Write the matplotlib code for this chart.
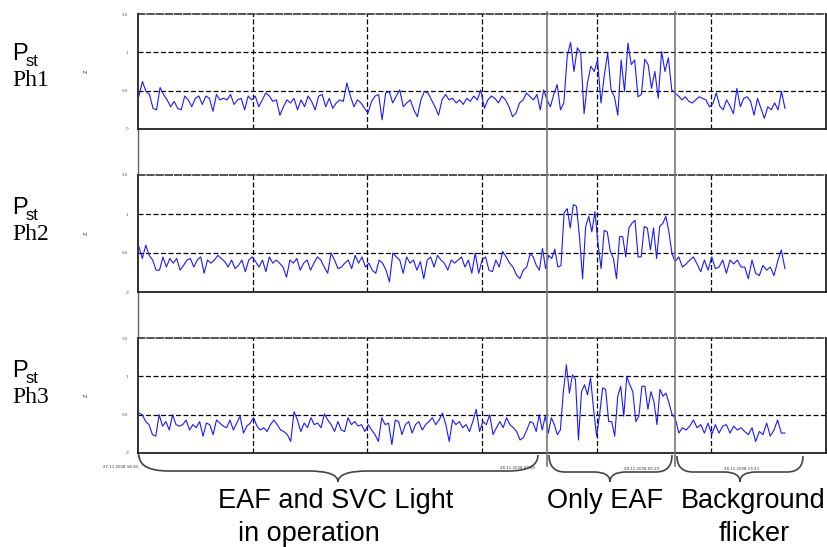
import numpy as np
import matplotlib
matplotlib.use("Agg")
import matplotlib.pyplot as plt
from matplotlib.path import Path
from matplotlib.patches import PathPatch
from matplotlib.lines import Line2D

# ---------------- data ----------------
# time axis in arbitrary units; boundaries of the three operating periods
seg_bounds = [0.4, 171.0, 234.2, 282.1]
x_range = [0, 300]
x_grid = [50, 100, 150, 200, 250]
y_ticks = [0, 0.5, 1, 1.5]
y_tick_labels = ["0", "0.5", "1", "1.5"]

phase_names = ["Ph1", "Ph2", "Ph3"]

# Phase 1
ph1_a = [0.43, 0.62, 0.49, 0.45, 0.27, 0.25, 0.54, 0.45, 0.38, 0.29, 0.36, 0.27, 0.25, 0.43, 0.38,
         0.29, 0.40, 0.43, 0.32, 0.43, 0.40, 0.23, 0.45, 0.38, 0.40, 0.38, 0.45, 0.32, 0.38, 0.40,
         0.25, 0.43, 0.38, 0.43, 0.29, 0.38, 0.47, 0.43, 0.36, 0.38, 0.18, 0.29, 0.38, 0.34, 0.40,
         0.25, 0.38, 0.29, 0.43, 0.36, 0.25, 0.43, 0.45, 0.29, 0.40, 0.27, 0.34, 0.38, 0.36, 0.60,
         0.43, 0.29, 0.38, 0.34, 0.27, 0.21, 0.36, 0.43, 0.45, 0.12, 0.47, 0.49, 0.34, 0.43, 0.51,
         0.29, 0.34, 0.38, 0.25, 0.16, 0.38, 0.49, 0.47, 0.38, 0.29, 0.18, 0.38, 0.45, 0.38, 0.40,
         0.34, 0.38, 0.32, 0.40, 0.36, 0.43, 0.38, 0.51, 0.27, 0.38, 0.43, 0.40, 0.34, 0.43, 0.38,
         0.29, 0.16, 0.21, 0.34, 0.38, 0.47]
ph1_b = [0.42, 0.38, 0.45, 0.25, 0.51, 0.38, 0.29, 0.45, 0.58, 0.25, 0.34,
         0.95, 1.13, 0.75, 1.06, 0.99, 0.20, 0.60, 0.82, 0.75, 0.90, 0.34, 0.70, 0.99, 0.51, 0.42,
         0.18, 0.90, 0.49, 1.12, 0.84, 0.90, 0.42, 0.45, 0.91, 0.84, 0.53, 0.75, 0.40, 1.01, 0.75,
         0.93, 0.51]
ph1_c = [0.47, 0.43, 0.38, 0.42, 0.36, 0.34, 0.38, 0.42, 0.40, 0.38, 0.29, 0.33, 0.47, 0.30, 0.25,
         0.38, 0.30, 0.20, 0.53, 0.29, 0.40, 0.42, 0.36, 0.18, 0.40, 0.27, 0.14, 0.29, 0.25, 0.34,
         0.25, 0.49, 0.27]

# Phase 2
ph2_a = [0.58, 0.43, 0.60, 0.47, 0.41, 0.28, 0.28, 0.45, 0.32, 0.43, 0.37, 0.43, 0.28, 0.34, 0.41,
         0.43, 0.32, 0.41, 0.45, 0.24, 0.41, 0.37, 0.41, 0.47, 0.43, 0.39, 0.32, 0.41, 0.30, 0.34,
         0.41, 0.26, 0.41, 0.45, 0.39, 0.32, 0.41, 0.26, 0.45, 0.37, 0.41, 0.37, 0.32, 0.19, 0.41,
         0.37, 0.43, 0.28, 0.37, 0.41, 0.28, 0.37, 0.45, 0.41, 0.32, 0.24, 0.50, 0.41, 0.30, 0.32,
         0.37, 0.41, 0.30, 0.47, 0.37, 0.45, 0.32, 0.37, 0.28, 0.24, 0.41, 0.37, 0.28, 0.13, 0.50,
         0.45, 0.41, 0.24, 0.45, 0.37, 0.41, 0.28, 0.39, 0.17, 0.41, 0.45, 0.32, 0.47, 0.41, 0.37,
         0.28, 0.41, 0.37, 0.41, 0.45, 0.32, 0.41, 0.24, 0.50, 0.24, 0.41, 0.45, 0.28, 0.26, 0.41,
         0.32, 0.52, 0.45, 0.37, 0.32, 0.22, 0.17, 0.28, 0.32]
ph2_b = [0.49, 0.45, 0.34, 0.28, 0.56, 0.30, 0.47, 0.43, 0.55, 0.32, 0.34,
         1.01, 1.07, 0.82, 1.12, 1.10, 0.71, 0.17, 0.84, 0.97, 0.77, 1.03, 0.62, 0.30, 0.79, 0.77,
         0.52, 0.43, 0.17, 0.71, 0.71, 0.45, 0.82, 0.88, 0.92, 0.45, 0.45, 0.84, 0.82, 0.54, 0.82,
         0.43, 0.84, 0.88, 0.97, 0.77, 0.49]
ph2_c = [0.39, 0.45, 0.32, 0.36, 0.41, 0.45, 0.36, 0.26, 0.41, 0.28, 0.45, 0.30, 0.32, 0.41, 0.24,
         0.41, 0.36, 0.41, 0.32, 0.32, 0.17, 0.41, 0.24, 0.21, 0.34, 0.28, 0.32, 0.21, 0.39, 0.54,
         0.30]

# Phase 3
ph3_a = [0.52, 0.50, 0.41, 0.37, 0.24, 0.22, 0.50, 0.35, 0.41, 0.30, 0.50, 0.37, 0.35, 0.37, 0.43,
         0.30, 0.37, 0.33, 0.41, 0.22, 0.39, 0.37, 0.24, 0.43, 0.39, 0.35, 0.33, 0.43, 0.30, 0.39,
         0.48, 0.26, 0.35, 0.39, 0.46, 0.35, 0.30, 0.33, 0.28, 0.37, 0.43, 0.37, 0.30, 0.28, 0.24,
         0.15, 0.54, 0.43, 0.28, 0.39, 0.33, 0.46, 0.37, 0.39, 0.33, 0.51, 0.43, 0.37, 0.28, 0.41,
         0.30, 0.28, 0.46, 0.37, 0.41, 0.35, 0.37, 0.28, 0.37, 0.30, 0.24, 0.15, 0.46, 0.37, 0.39,
         0.11, 0.43, 0.41, 0.24, 0.37, 0.41, 0.26, 0.37, 0.41, 0.30, 0.37, 0.41, 0.46, 0.37, 0.43,
         0.52, 0.37, 0.15, 0.43, 0.37, 0.41, 0.33, 0.37, 0.28, 0.41, 0.57, 0.28, 0.41, 0.37, 0.50,
         0.24, 0.33, 0.41, 0.33, 0.46, 0.37, 0.33, 0.28, 0.17, 0.20, 0.30]
ph3_b = [0.41, 0.39, 0.28, 0.50, 0.30, 0.48, 0.26, 0.46, 0.37, 0.24, 0.30,
         0.80, 1.15, 0.78, 1.02, 0.96, 0.17, 0.80, 0.89, 0.76, 0.98, 0.57, 0.22, 0.50, 0.85, 0.83,
         0.41, 0.41, 0.22, 0.74, 0.87, 0.48, 1.00, 0.89, 0.80, 0.41, 0.48, 0.87, 0.87, 0.57, 0.80,
         0.67, 0.37, 0.83, 0.74, 0.78, 0.65, 0.50]
ph3_c = [0.46, 0.26, 0.33, 0.30, 0.35, 0.43, 0.33, 0.37, 0.26, 0.39, 0.24, 0.37, 0.26, 0.35, 0.37,
         0.26, 0.35, 0.30, 0.33, 0.28, 0.24, 0.33, 0.15, 0.28, 0.24, 0.39, 0.22, 0.30, 0.43, 0.26,
         0.26]

series = [(ph1_a, ph1_b, ph1_c), (ph2_a, ph2_b, ph2_c), (ph3_a, ph3_b, ph3_c)]

date_labels = ["27.11.2008 18:30", "28.11.2008 07:50", "28.11.2008 09:10", "28.11.2008 13:33"]
period_labels = ["EAF and SVC Light\nin operation", "Only EAF", "Background\nflicker"]

# ---------------- figure ----------------
W, H = 827, 547
fig = plt.figure(figsize=(W / 100, H / 100), dpi=100)
fig.patch.set_facecolor("white")


def fx(px):
    return px / W


def fy(py):
    return 1 - py / H


panel_px = [(14, 129), (175, 292), (338, 453)]
left_px, right_px = 138, 826
dash = (0, (4, 2))

axes = []
for i, (top, bot) in enumerate(panel_px):
    ax = fig.add_axes([fx(left_px), fy(bot), fx(right_px - left_px), (bot - top) / H])
    a, b, c = series[i]
    t = np.concatenate([
        np.linspace(seg_bounds[0], seg_bounds[1], len(a), endpoint=False),
        np.linspace(seg_bounds[1], seg_bounds[2], len(b), endpoint=False),
        np.linspace(seg_bounds[2], seg_bounds[3], len(c)),
    ])
    v = np.concatenate([a, b, c])
    ax.plot(t, v, color="#1a1aff", lw=0.8, zorder=3)
    ax.set_xlim(*x_range)
    ax.set_ylim(0, 1.5)
    for yv in [0.5, 1.0]:
        ax.axhline(yv, color="black", lw=0.9, ls=dash, zorder=1)
    for xv in x_grid:
        ax.axvline(xv, color="black", lw=0.9, ls=dash, zorder=1)
    ax.set_xticks([])
    ax.set_yticks(y_ticks)
    ax.set_yticklabels(y_tick_labels, fontsize=3, color="#555555")
    ax.tick_params(axis="y", length=0, pad=7)
    ax.set_ylabel("Z", fontsize=3.5, color="#333333", labelpad=24)
    for s in ["left", "bottom", "right"]:
        ax.spines[s].set_color("#222222")
        ax.spines[s].set_linewidth(1.3)
    ax.spines["top"].set_color("#333333")
    ax.spines["top"].set_linewidth(1.2)
    ax.spines["top"].set_linestyle((0, (4, 1.5)))
    axes.append(ax)

    # left labels
    pb = top + 46 if i == 0 else top + 39
    fig.text(fx(12), fy(pb), "P", fontsize=17, family="Liberation Sans", va="baseline", ha="left")
    fig.text(fx(26), fy(pb + 6), "st", fontsize=12, family="Liberation Sans", va="baseline", ha="left")
    fig.text(fx(12), fy(pb + 26), phase_names[i], fontsize=17, family="Liberation Serif",
             va="baseline", ha="left")

# connecting vertical lines
fig.add_artist(Line2D([fx(138), fx(138)], [fy(13), fy(456)], color="#666666", lw=1.0, zorder=0))
for xp in [547, 675]:
    fig.add_artist(Line2D([fx(xp), fx(xp)], [fy(12), fy(466)], color="#777777", lw=1.2, zorder=5))


def brace(x0, x1, xc, ytop, ymid, ytip, r):
    pts = [(x0, ytop), (x0, ymid), (x0 + r, ymid),
           (xc - r, ymid), (xc, ymid), (xc, ytip),
           (xc, ymid), (xc + r, ymid),
           (x1 - r, ymid), (x1, ymid), (x1, ytop)]
    codes = [Path.MOVETO, Path.CURVE3, Path.CURVE3,
             Path.LINETO, Path.CURVE3, Path.CURVE3,
             Path.CURVE3, Path.CURVE3,
             Path.LINETO, Path.CURVE3, Path.CURVE3]
    verts = [(fx(px), fy(py)) for px, py in pts]
    patch = PathPatch(Path(verts, codes), facecolor="none", edgecolor="#444444", lw=1.2,
                      transform=fig.transFigure)
    fig.add_artist(patch)


brace(139, 538, 338, 455, 471, 482, 30)
brace(549, 672, 610, 455, 472, 482, 16)
brace(677, 803, 740, 456, 472, 482, 16)

# tiny date annotations
for (xp, yp), lab in zip([(120, 467), (517, 468), (642, 469), (742, 469)], date_labels):
    fig.text(fx(xp), fy(yp), lab, fontsize=2.8, color="#333333", ha="center", va="center")

# period labels
fig.text(fx(218), fy(508), "EAF and SVC Light", fontsize=19.5, family="Liberation Sans",
         ha="left", va="baseline")
fig.text(fx(238), fy(541), "in operation", fontsize=19.5, family="Liberation Sans",
         ha="left", va="baseline")
fig.text(fx(605), fy(508), period_labels[1], fontsize=19.5, family="Liberation Sans",
         ha="center", va="baseline")
fig.text(fx(753), fy(508), "Background", fontsize=19.5, family="Liberation Sans",
         ha="center", va="baseline")
fig.text(fx(754), fy(541), "flicker", fontsize=19.5, family="Liberation Sans",
         ha="center", va="baseline")

fig.savefig("out.png", dpi=100, facecolor="white")
